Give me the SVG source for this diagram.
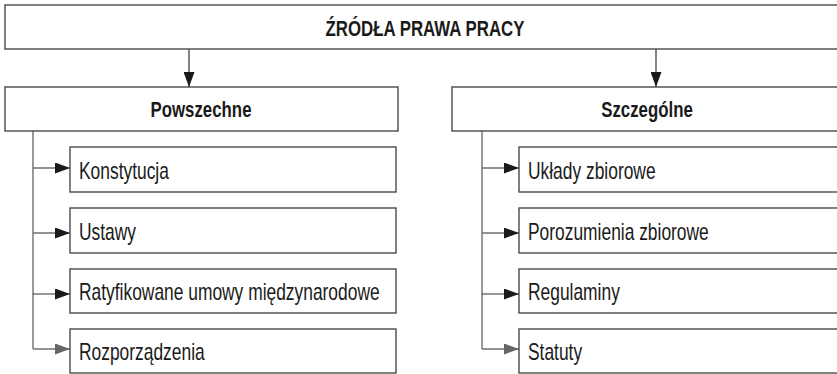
<svg xmlns="http://www.w3.org/2000/svg" width="837" height="374" viewBox="0 0 837 374">
<defs>
<style>
.box{fill:#fff;stroke:#4a4a4a;stroke-width:1.4}
.t{font-family:"Liberation Sans",Arial,sans-serif;font-size:23px;fill:#1a1a1a}
.b{font-weight:bold;text-anchor:middle;font-size:22.3px}
.ln{stroke:#6e6e6e;stroke-width:1.4;fill:none}
.dk{stroke:#333;stroke-width:1.2;fill:none}
</style>
<marker id="ah" viewBox="0 0 15 11" refX="15" refY="5.5" markerWidth="15" markerHeight="11" markerUnits="userSpaceOnUse" orient="auto"><path d="M0,0 L15,5.5 L0,11 Z" fill="#1a1a1a"/></marker>
<marker id="ahg" viewBox="0 0 15 11" refX="15" refY="5.5" markerWidth="15" markerHeight="11" markerUnits="userSpaceOnUse" orient="auto"><path d="M0,0 L15,5.5 L0,11 Z" fill="#666"/></marker>
</defs>
<g id="connectors">
<line class="dk" x1="189" y1="49" x2="189" y2="87" marker-end="url(#ah)"/>
<line class="dk" x1="656" y1="49" x2="656" y2="87" marker-end="url(#ah)"/>
<path class="ln" d="M33,131 V349"/>
<line class="ln" x1="33" y1="168" x2="70" y2="168" marker-end="url(#ah)"/>
<line class="ln" x1="33" y1="233" x2="70" y2="233" marker-end="url(#ah)"/>
<line class="dk" x1="33" y1="294" x2="70" y2="294" marker-end="url(#ah)"/>
<line class="ln" x1="33" y1="349" x2="70" y2="349" marker-end="url(#ahg)"/>
<path class="ln" d="M482,131 V349"/>
<line class="ln" x1="482" y1="168" x2="519" y2="168" marker-end="url(#ah)"/>
<line class="ln" x1="482" y1="233" x2="519" y2="233" marker-end="url(#ah)"/>
<line class="dk" x1="482" y1="294" x2="519" y2="294" marker-end="url(#ah)"/>
<line class="ln" x1="482" y1="349" x2="519" y2="349" marker-end="url(#ahg)"/>
</g>
<g id="root"><rect class="box" x="5" y="5" width="840" height="44"/><text class="t b" transform="translate(425,36) scale(0.755,1)">ŹRÓDŁA PRAWA PRACY</text></g>
<g id="powszechne"><rect class="box" x="5" y="87" width="393" height="44"/><text class="t b" transform="translate(201,117) scale(0.755,1)">Powszechne</text></g>
<g id="szczegolne"><rect class="box" x="452" y="87" width="393" height="44"/><text class="t b" transform="translate(647,117) scale(0.755,1)">Szczególne</text></g>
<g id="konstytucja"><rect class="box" x="70" y="147" width="326" height="45"/><text class="t" transform="translate(79,178.5) scale(0.757,1)">Konstytucja</text></g>
<g id="ustawy"><rect class="box" x="70" y="208" width="326" height="45"/><text class="t" transform="translate(79,239.5) scale(0.757,1)">Ustawy</text></g>
<g id="ratyfikowane"><rect class="box" x="70" y="269" width="326" height="44"/><text class="t" transform="translate(79,299.5) scale(0.757,1)">Ratyfikowane umowy międzynarodowe</text></g>
<g id="rozporzadzenia"><rect class="box" x="70" y="329" width="326" height="44"/><text class="t" transform="translate(79,360) scale(0.757,1)">Rozporządzenia</text></g>
<g id="uklady"><rect class="box" x="519" y="147" width="326" height="45"/><text class="t" transform="translate(528,178.5) scale(0.757,1)">Układy zbiorowe</text></g>
<g id="porozumienia"><rect class="box" x="519" y="208" width="326" height="45"/><text class="t" transform="translate(528,239.5) scale(0.757,1)">Porozumienia zbiorowe</text></g>
<g id="regulaminy"><rect class="box" x="519" y="269" width="326" height="44"/><text class="t" transform="translate(528,299.5) scale(0.757,1)">Regulaminy</text></g>
<g id="statuty"><rect class="box" x="519" y="329" width="326" height="44"/><text class="t" transform="translate(528,360) scale(0.757,1)">Statuty</text></g>
</svg>
